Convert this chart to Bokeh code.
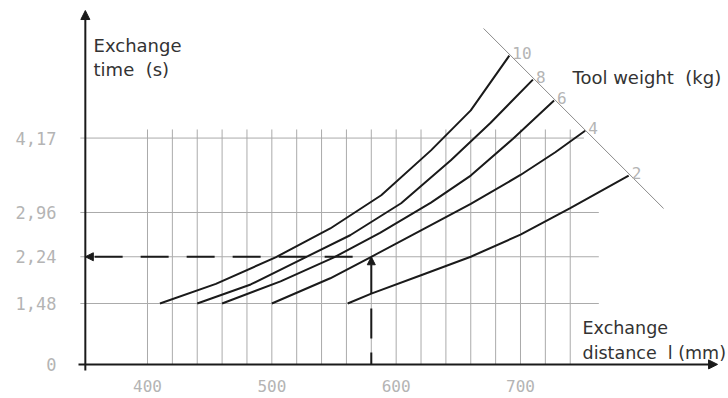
from bokeh.plotting import figure
from bokeh.models import Arrow, NormalHead, Label, Range1d
from bokeh.core.properties import value
from bokeh.embed import file_html
from bokeh.resources import INLINE

# ---------------- data ----------------
WEIGHTS = ["10", "8", "6", "4", "2"]
x10 = [410, 455, 503, 547, 588, 628, 660, 691]
y10 = [1.48, 1.80, 2.23, 2.70, 3.24, 3.97, 4.62, 5.51]
x8 = [440, 483, 525, 563, 604, 644, 676, 710]
y8 = [1.48, 1.79, 2.21, 2.59, 3.11, 3.81, 4.42, 5.12]
x6 = [460, 507, 550, 587, 628, 660, 694, 727]
y6 = [1.48, 1.84, 2.23, 2.63, 3.12, 3.56, 4.16, 4.78]
x4 = [500, 547, 580, 620, 660, 700, 728, 752]
y4 = [1.48, 1.89, 2.24, 2.67, 3.10, 3.57, 3.94, 4.29]
x2 = [561, 580, 620, 660, 700, 740, 787]
y2 = [1.48, 1.64, 1.94, 2.24, 2.60, 3.03, 3.56]
CURVES_X = [x10, x8, x6, x4, x2]
CURVES_Y = [y10, y8, y6, y4, y2]

Y_TICKS = [1.48, 2.24, 2.96, 4.17]
Y_TICK_LABELS = ["1,48", "2,24", "2,96", "4,17"]
ZERO_LABEL = "0"
X_TICKS = [400, 500, 600, 700]
X_TICK_LABELS = ["400", "500", "600", "700"]
X_GRID = [400, 420, 440, 460, 480, 500, 520, 540, 560, 580,
          600, 620, 640, 660, 680, 700, 720, 740]

EXAMPLE_X = 580      # exchange distance read-off example (mm)
EXAMPLE_Y = 2.24     # resulting exchange time (s)
EXAMPLE_W_IDX = 4    # weight curve "2" start of the arrow (y2 at 580)

# ---------------- layout constants ----------------
X_LO, X_HI = 281.77, 867.3
Y_LO, Y_HI = -0.0647, 6.407
AXIS_X = 350.0        # position of the vertical axis (mm)
AXIS_Y = 0.49         # broken axis: position of the "0" baseline
GRID_TOP = 4.31
GRID_RIGHT = 763.0
GRID_RIGHT_TOP = 751.0
DIAG = ([670.3, 815.1], [5.952, 3.025])

INK = "#1a1a1a"
GRID = "#ababab"
TICKC = "#b4b4b4"
TEXTC = "#333333"

p = figure(width=728, height=398, output_backend="svg", toolbar_location=None,
           x_range=Range1d(X_LO, X_HI), y_range=Range1d(Y_LO, Y_HI),
           x_axis_type=None, y_axis_type=None,
           min_border=0, min_border_left=0, min_border_right=0,
           min_border_top=0, min_border_bottom=0)
p.outline_line_color = None
p.background_fill_color = "white"
p.border_fill_color = "white"

# grid
p.segment(x0=X_GRID, y0=[AXIS_Y] * len(X_GRID), x1=X_GRID, y1=[GRID_TOP] * len(X_GRID),
          line_color=GRID, line_width=1)
rights = [GRID_RIGHT if t < 4 else GRID_RIGHT_TOP for t in Y_TICKS]
p.segment(x0=[AXIS_X - 4] * len(Y_TICKS), y0=Y_TICKS, x1=rights, y1=Y_TICKS,
          line_color=GRID, line_width=1)

# diagonal (tool weight scale)
p.line(DIAG[0], DIAG[1], line_color="#8a8a8a", line_width=1)

# curves
for xs, ys in zip(CURVES_X, CURVES_Y):
    p.line(xs, ys, line_color=INK, line_width=2)

# weight labels at curve ends
p.text(x=[c[-1] for c in CURVES_X], y=[c[-1] for c in CURVES_Y], text=WEIGHTS,
       text_font=value("DejaVu Sans Mono"), text_font_size="16px", text_color=TICKC,
       text_align="left", text_baseline="alphabetic", x_offset=3, y_offset=-3)

# axes with arrows
p.add_layout(Arrow(end=NormalHead(size=9, fill_color=INK, line_color=INK),
                   x_start=AXIS_X, y_start=0.39, x_end=AXIS_X, y_end=6.244,
                   line_color=INK, line_width=2))
p.add_layout(Arrow(end=NormalHead(size=9, fill_color=INK, line_color=INK),
                   x_start=344.5, y_start=AXIS_Y, x_end=858.5, y_end=AXIS_Y,
                   line_color=INK, line_width=2))

# example read-off
p.line([EXAMPLE_X, EXAMPLE_X], [1.40, AXIS_Y], line_color=INK, line_width=2, line_dash="30 14")
p.add_layout(Arrow(end=NormalHead(size=8, fill_color=INK, line_color=INK),
                   x_start=EXAMPLE_X, y_start=CURVES_Y[EXAMPLE_W_IDX][1],
                   x_end=EXAMPLE_X, y_end=EXAMPLE_Y,
                   line_color=INK, line_width=2))
p.add_layout(Arrow(end=NormalHead(size=8, fill_color=INK, line_color=INK),
                   x_start=EXAMPLE_X - 15, y_start=EXAMPLE_Y, x_end=AXIS_X, y_end=EXAMPLE_Y,
                   line_color=INK, line_width=2, line_dash="28 18"))

# tick labels
p.text(x=[326.8] * (len(Y_TICKS) + 1), y=Y_TICKS + [AXIS_Y], text=Y_TICK_LABELS + [ZERO_LABEL],
       text_font=value("DejaVu Sans Mono"), text_font_size="17px", text_color=TICKC,
       text_align="right", text_baseline="middle")
p.text(x=X_TICKS, y=[0.14] * len(X_TICKS), text=X_TICK_LABELS,
       text_font=value("DejaVu Sans Mono"), text_font_size="16px", text_color=TICKC,
       text_align="center", text_baseline="middle")

# titles
def lab(x, y, t, size="18px"):
    p.add_layout(Label(x=x, y=y, text=t, text_font="DejaVu Sans", text_font_size=size,
                       text_color=TEXTC, text_align="left", text_baseline="alphabetic"))

lab(356.6, 5.675, "Exchange")
lab(356.6, 5.285, "time \u00a0(s)")
lab(741.8, 5.16, "Tool weight \u00a0(kg)")
lab(749.9, 1.08, "Exchange", "17.5px")
lab(749.9, 0.675, "distance \u00a0l (mm)", "17.5px")

open("out.html", "w").write(file_html(p, INLINE))
